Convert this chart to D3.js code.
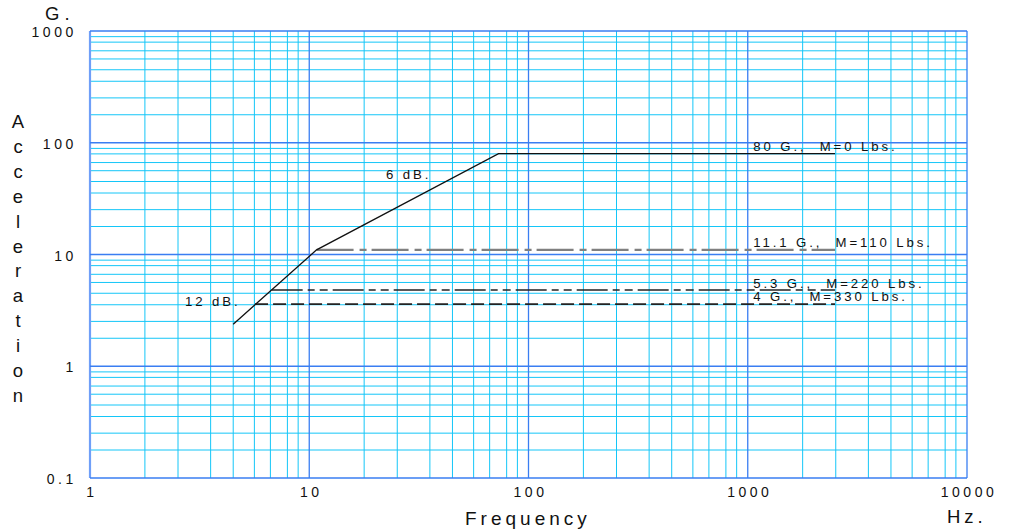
<!DOCTYPE html>
<html><head><meta charset="utf-8">
<script src="https://cdn.jsdelivr.net/npm/d3@7"></script>
<style>
html,body{margin:0;padding:0;background:#fff;}
svg{display:block;font-family:"Liberation Sans",Arial,sans-serif;}
text{white-space:pre;}
</style></head>
<body>
<svg id="chart" width="1010" height="531"></svg>
<script>
// ---- data ----
const freqDecades = [1, 10, 100, 1000, 10000];
const accelDecades = [0.1, 1, 10, 100, 1000];
const minorSteps = [1.78, 2.52, 3.55, 4.5, 5.62, 6.65, 7.95, 8.9];
const xTickLabels = ["1", "10", "100", "1000", "10000"];
const yTickLabels = ["0.1", "1", "10", "100", "1000"];

// 0-load response curve (12 dB slope, 6 dB slope, 80 G plateau)
const curveFreq = [4.5, 10.8, 73, 2500];
const curveAccel = [2.38, 11, 80, 80];
const curveLabel = "80 G.,  M=0 Lbs.";

// loaded plateaus
const loadLabels = ["11.1 G.,  M=110 Lbs.", "5.3 G.,  M=220 Lbs.", "4 G.,  M=330 Lbs."];
const loadStartFreq = [10.8, 6.74, 5.66];
const loadEndFreq = [2500, 2500, 2500];
const loadAccel = [11, 4.8, 3.6];

const slopeLabels = ["6 dB.", "12 dB."];
const slopeLabelFreq = [22.4, 2.71];
const slopeLabelAccel = [47.5, 3.46];

// ---- layout ----
const svg = d3.select("#chart");
const L = 90, R = 967, T = 31, B = 478;
const x = d3.scaleLog().domain([1, 10000]).range([L, R]);
const y = d3.scaleLog().domain([0.1, 1000]).range([B, T]);

const minorX = [], minorY = [];
freqDecades.slice(0, -1).forEach(d => minorSteps.forEach(s => minorX.push(d * s)));
accelDecades.slice(0, -1).forEach(d => minorSteps.forEach(s => minorY.push(d * s)));

const grid = svg.append("g");
const minorColor = "#14c6f8", majorColor = "#3a7ef2";
grid.selectAll(".mx").data(minorX).join("line")
  .attr("x1", d => x(d)).attr("x2", d => x(d)).attr("y1", T).attr("y2", B)
  .attr("stroke", minorColor).attr("stroke-width", 1);
grid.selectAll(".my").data(minorY).join("line")
  .attr("y1", d => y(d)).attr("y2", d => y(d)).attr("x1", L).attr("x2", R)
  .attr("stroke", minorColor).attr("stroke-width", 1);
grid.selectAll(".Mx").data(freqDecades).join("line")
  .attr("x1", d => x(d)).attr("x2", d => x(d)).attr("y1", T).attr("y2", B)
  .attr("stroke", (d, i) => i === 0 ? "#6f9ff8" : majorColor)
  .attr("stroke-width", (d, i) => i === 0 ? 2.2 : 1.3);
grid.selectAll(".My").data(accelDecades).join("line")
  .attr("y1", d => y(d)).attr("y2", d => y(d)).attr("x1", L).attr("x2", R)
  .attr("stroke", majorColor).attr("stroke-width", 1.3);

// ---- axis labels (D3 axes, domain & ticks hidden) ----
const xAxis = d3.axisBottom(x).tickValues(freqDecades)
  .tickFormat((d, i) => xTickLabels[i]).tickSize(0).tickPadding(0);
const gx = svg.append("g").attr("transform", `translate(0,${B})`).call(xAxis);
gx.select(".domain").remove();
gx.selectAll("text").attr("y", 19).attr("dy", 0)
  .attr("font-size", 14).attr("letter-spacing", 3.5).attr("fill", "#111")
  .attr("font-family", "Liberation Sans, Arial, sans-serif")
  .attr("dx", 1.5);

const yAxis = d3.axisLeft(y).tickValues(accelDecades)
  .tickFormat((d, i) => yTickLabels[i]).tickSize(0).tickPadding(0);
const gy = svg.append("g").attr("transform", `translate(${L},0)`).call(yAxis);
gy.select(".domain").remove();
gy.selectAll("text").attr("x", -13).attr("dy", 5.5)
  .attr("font-size", 14).attr("letter-spacing", 3.6).attr("fill", "#111")
  .attr("font-family", "Liberation Sans, Arial, sans-serif");

// titles
svg.append("text").attr("x", 45).attr("y", 20).attr("font-size", 18.5)
  .attr("letter-spacing", 5).attr("fill", "#111").text("G.");
const yTitle = "Acceleration".split("");
svg.append("g").selectAll("text").data(yTitle).join("text")
  .attr("x", 18).attr("y", (d, i) => 128 + i * 24.9)
  .attr("text-anchor", "middle").attr("font-size", 18.5).attr("fill", "#111")
  .text(d => d);
svg.append("text").attr("x", 465).attr("y", 525).attr("font-size", 19)
  .attr("letter-spacing", 4).attr("fill", "#111").text("Frequency");
svg.append("text").attr("x", 947).attr("y", 523).attr("font-size", 18.5)
  .attr("letter-spacing", 4).attr("fill", "#111").text("Hz.");

// ---- data lines ----
const line = d3.line().x(d => x(d[0])).y(d => y(d[1]));
const loadStyles = [
  { stroke: "#808080", width: 2.4, dash: "37,6,7,5" },
  { stroke: "#222", width: 1.5, dash: "31,5,7,5,8,5" },
  { stroke: "#222", width: 1.8, dash: "13,5" }
];
loadAccel.forEach((a, i) => {
  svg.append("path")
    .attr("d", line([[loadStartFreq[i], a], [loadEndFreq[i], a]]))
    .attr("fill", "none").attr("stroke", loadStyles[i].stroke)
    .attr("stroke-width", loadStyles[i].width)
    .attr("stroke-dasharray", loadStyles[i].dash);
});
svg.append("path").attr("d", line(curveFreq.map((f, i) => [f, curveAccel[i]])))
  .attr("fill", "none").attr("stroke", "#111").attr("stroke-width", 1.3);

// ---- annotations ----
const labX = x(1000) + 5.5;
const labStyle = s => s.attr("font-size", 13.2).attr("letter-spacing", 2.9).attr("fill", "#111");
svg.append("text").attr("x", labX).attr("y", y(curveAccel[2]) - 3).call(labStyle).text(curveLabel);
loadLabels.forEach((t, i) => {
  svg.append("text").attr("x", labX).attr("y", y(loadAccel[i]) - 2.6).call(labStyle).text(t);
});
slopeLabels.forEach((t, i) => {
  svg.append("text").attr("x", x(slopeLabelFreq[i])).attr("y", y(slopeLabelAccel[i]))
    .call(labStyle).text(t);
});
</script>
</body></html>
